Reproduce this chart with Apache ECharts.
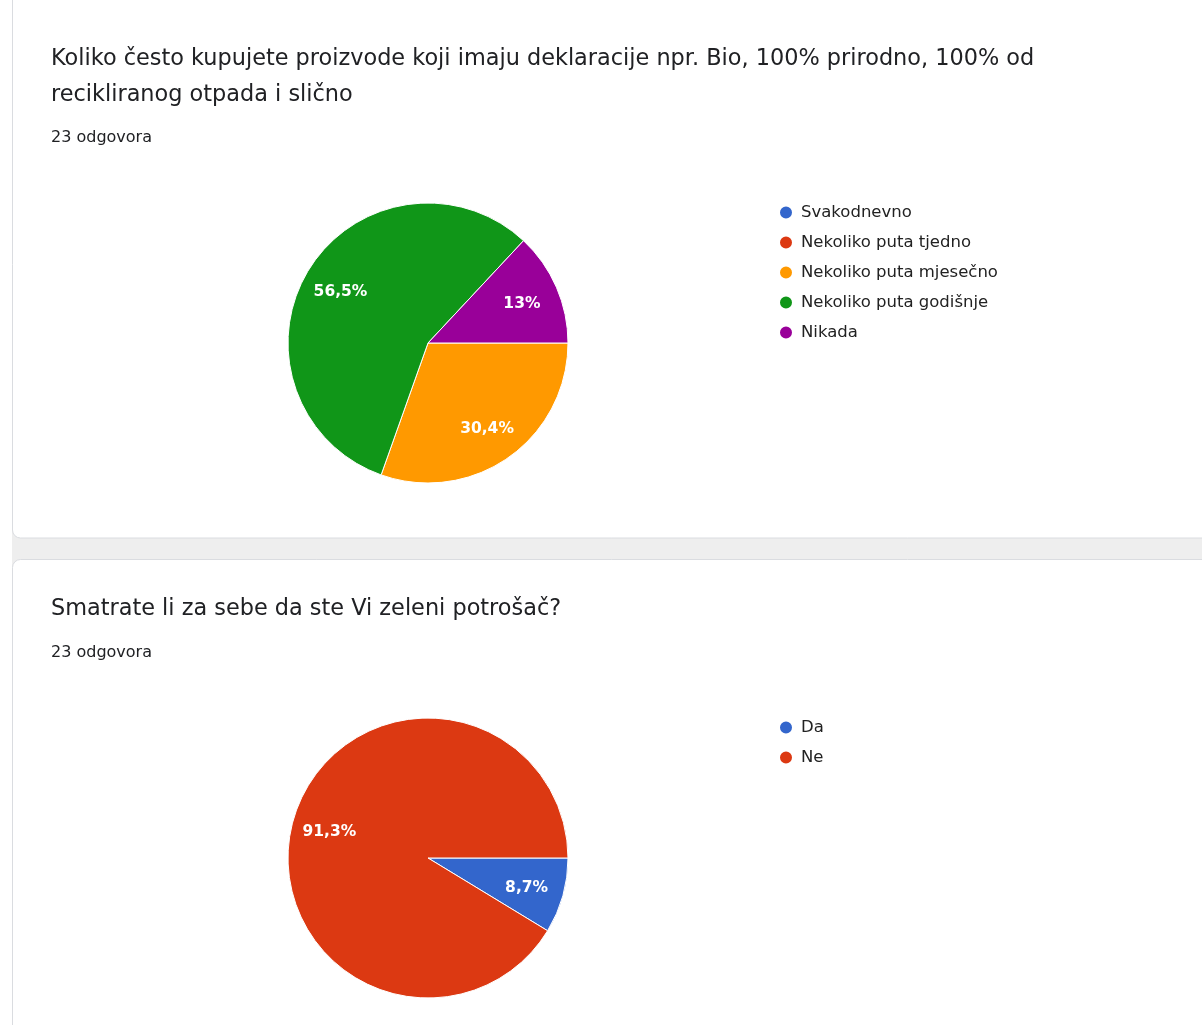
<!DOCTYPE html>
<html>
<head>
<meta charset="utf-8">
<script src="https://cdn.jsdelivr.net/npm/echarts@6/dist/echarts.min.js"></script>
<style>
html, body { margin: 0; padding: 0; background: #fff; }
#chart { width: 1202px; height: 1025px; }
</style>
</head>
<body>
<div id="chart"></div>
<script>
// pitanje 1
var q1Title = 'Koliko često kupujete proizvode koji imaju deklaracije npr. Bio, 100% prirodno, 100% od\nrecikliranog otpada i slično';
var q1Categories = ['Svakodnevno', 'Nekoliko puta tjedno', 'Nekoliko puta mjesečno', 'Nekoliko puta godišnje', 'Nikada'];
var q1Values = [0, 0, 7, 13, 3];
var q1Colors = ['#3366cc', '#dc3912', '#ff9900', '#109618', '#990099'];

// pitanje 2
var q2Title = 'Smatrate li za sebe da ste Vi zeleni potrošač?';
var q2Categories = ['Da', 'Ne'];
var q2Values = [2, 21];
var q2Colors = ['#3366cc', '#dc3912'];

var answersText = '23 odgovora';

function toData(cats, vals, colors) {
	return cats.map(function (c, i) {
		return { name: c, value: vals[i], itemStyle: { color: colors[i] } };
	});
}

// postotak s decimalnim zarezom, kao u Google obrascima
function makeLabel(vals) {
	var total = vals.reduce(function (a, b) { return a + b; }, 0);
	return function (p) {
		if (!p.value) return '';
		var pct = Math.round(p.value / total * 1000) / 10;
		return String(pct).replace('.', ',') + '%';
	};
}

var R = 140;

function pieSeries(data, vals, center) {
	return [
		{
			type: 'pie',
			center: center,
			radius: R,
			startAngle: 0,
			clockwise: true,
			silent: true,
			label: { show: false },
			labelLine: { show: false },
			itemStyle: { borderColor: '#fff', borderWidth: 1 },
			data: data
		},
		{
			// samo za natpise (postavljeni na ~0.71 radijusa)
			type: 'pie',
			center: center,
			radius: [R * 0.42, R],
			startAngle: 0,
			clockwise: true,
			silent: true,
			itemStyle: { color: 'rgba(0,0,0,0)', borderWidth: 0 },
			label: {
				show: true,
				position: 'inside',
				formatter: makeLabel(vals),
				color: '#fff',
				fontFamily: 'DejaVu Sans, sans-serif',
				fontSize: 15.5,
				fontWeight: 'bold',
				offset: [0, 2]
			},
			labelLine: { show: false },
			data: data.map(function (d) { return { name: d.name, value: d.value }; })
		}
	];
}

var titleStyle = { fontFamily: 'DejaVu Sans, sans-serif', fontSize: 22.4, fontWeight: 'normal', color: '#202124', lineHeight: 36 };
var subStyle = { fontFamily: 'DejaVu Sans, sans-serif', fontSize: 16, fontWeight: 'normal', color: '#202124' };
var legendText = { fontFamily: 'DejaVu Sans, sans-serif', fontSize: 16.5, color: '#222', lineHeight: 16, padding: [0, 0, 0, 3] };

var chart = echarts.init(document.getElementById('chart'));
var option = {
	backgroundColor: '#fff',
	animation: false,
	graphic: [
		{ type: 'rect', z: -10, shape: { x: 12, y: 0, width: 1200, height: 1025 }, style: { fill: '#eeeeee' } },
		{ type: 'rect', z: -9, shape: { x: 12.5, y: -10, width: 1200, height: 548, r: 8 }, style: { fill: '#fff', stroke: '#dadce0', lineWidth: 1 } },
		{ type: 'rect', z: -9, shape: { x: 12.5, y: 559.5, width: 1200, height: 500, r: 8 }, style: { fill: '#fff', stroke: '#dadce0', lineWidth: 1 } }
	],
	title: [
		{ text: q1Title, left: 51, top: 41, padding: 0, textStyle: titleStyle },
		{ text: answersText, left: 51, top: 130, padding: 0, textStyle: subStyle },
		{ text: q2Title, left: 51, top: 591, padding: 0, textStyle: titleStyle },
		{ text: answersText, left: 51, top: 645, padding: 0, textStyle: subStyle }
	],
	legend: [
		{
			orient: 'vertical', left: 778, top: 204, padding: 0,
			icon: 'circle', itemWidth: 14, itemHeight: 14, itemGap: 13,
			selectedMode: false,
			textStyle: legendText,
			data: q1Categories
		},
		{
			orient: 'vertical', left: 778, top: 719, padding: 0,
			icon: 'circle', itemWidth: 14, itemHeight: 14, itemGap: 13,
			selectedMode: false,
			textStyle: legendText,
			data: q2Categories
		}
	],
	series: pieSeries(toData(q1Categories, q1Values, q1Colors), q1Values, [428, 343])
		.concat(pieSeries(toData(q2Categories, q2Values, q2Colors), q2Values, [428, 858]))
};
chart.setOption(option);
</script>
</body>
</html>
